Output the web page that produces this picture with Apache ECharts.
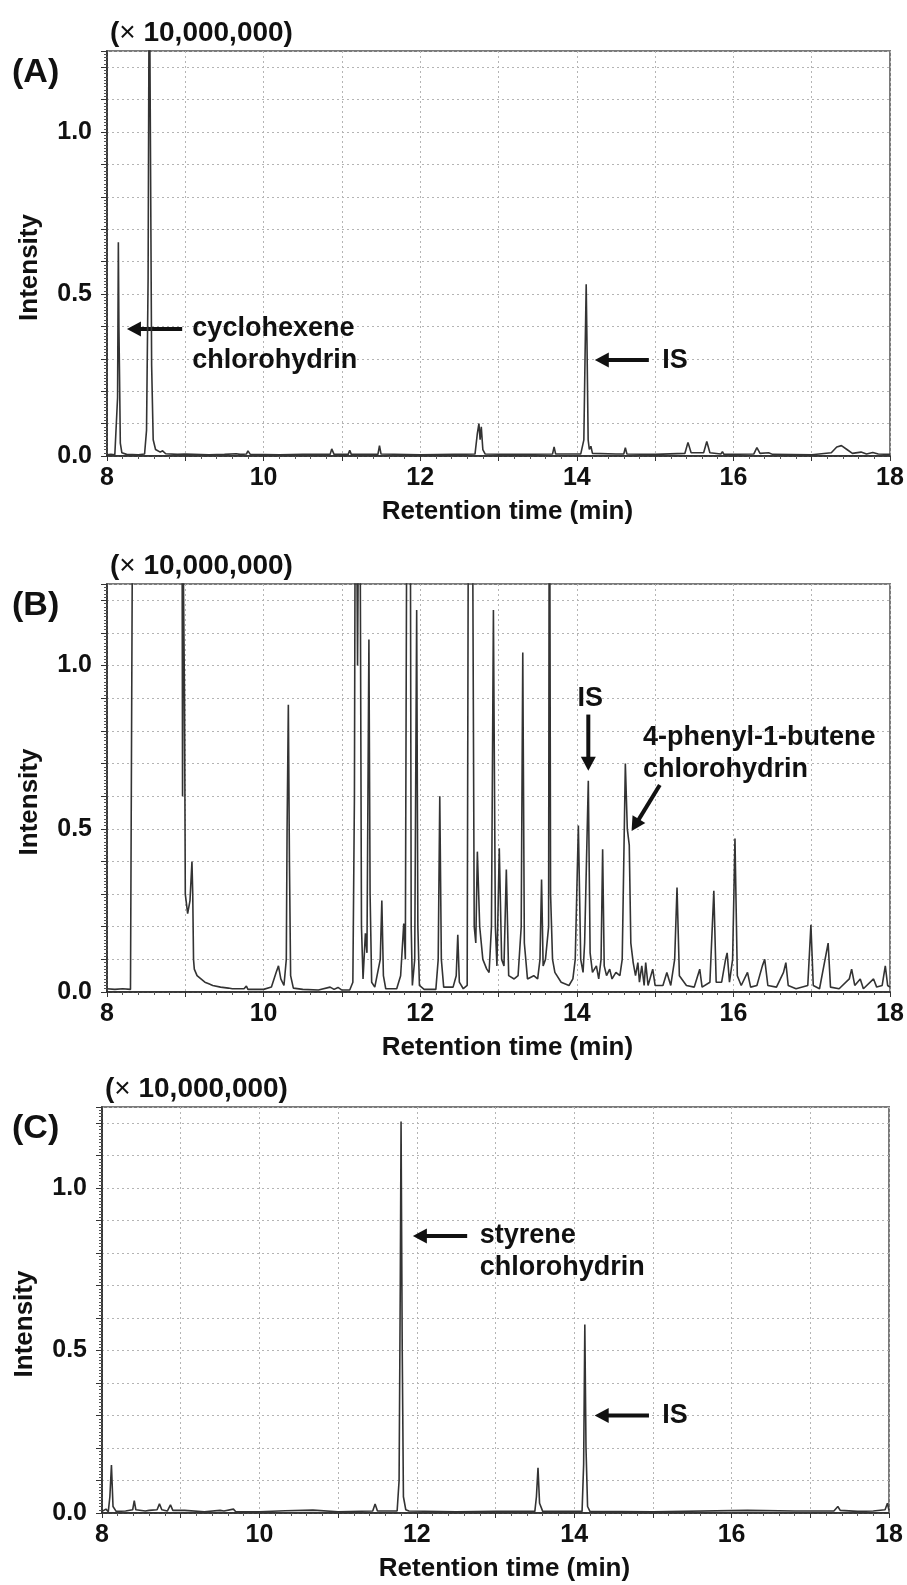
<!DOCTYPE html>
<html><head><meta charset="utf-8">
<script src="https://cdn.jsdelivr.net/npm/echarts@6/dist/echarts.min.js"></script>
<style>html,body{margin:0;padding:0;background:#fff}#c{width:907px;height:1585px}</style>
</head><body><div id="c"></div>
<script>
// ---- data: [retention time (min), intensity (x 10,000,000)] ----
const traceA = [[8.00,0.004],[8.05,0.005],[8.10,0.004],[8.125,0.006],[8.135,0.18],[8.145,0.66],[8.152,0.4],[8.16,0.25],[8.17,0.04],[8.19,0.01],[8.25,0.005],[8.40,0.004],[8.48,0.006],[8.505,0.08],[8.525,0.55],[8.54,1.6],[8.555,0.95],[8.57,0.28],[8.59,0.05],[8.62,0.02],[8.68,0.012],[8.71,0.016],[8.75,0.007],[8.9,0.005],[9.0,0.006],[9.3,0.004],[9.5,0.005],[9.65,0.007],[9.67,0.012],[9.70,0.005],[9.78,0.006],[9.80,0.016],[9.83,0.005],[10.2,0.004],[10.5,0.005],[10.85,0.005],[10.87,0.022],[10.9,0.005],[11.08,0.005],[11.1,0.018],[11.12,0.005],[11.46,0.005],[11.48,0.032],[11.5,0.006],[12.0,0.004],[12.43,0.005],[12.45,0.01],[12.47,0.005],[12.7,0.006],[12.73,0.07],[12.75,0.10],[12.765,0.05],[12.78,0.09],[12.8,0.02],[12.83,0.006],[13.2,0.005],[13.69,0.006],[13.71,0.028],[13.73,0.006],[14.05,0.006],[14.09,0.05],[14.105,0.3],[14.12,0.53],[14.13,0.35],[14.145,0.05],[14.16,0.02],[14.18,0.03],[14.2,0.008],[14.5,0.006],[14.6,0.006],[14.62,0.026],[14.64,0.006],[15.0,0.005],[15.38,0.008],[15.42,0.042],[15.46,0.01],[15.62,0.01],[15.66,0.045],[15.7,0.01],[15.84,0.006],[15.86,0.013],[15.88,0.005],[16.26,0.006],[16.3,0.026],[16.34,0.008],[16.45,0.01],[16.5,0.005],[17.0,0.004],[17.25,0.01],[17.32,0.028],[17.38,0.032],[17.45,0.02],[17.52,0.008],[17.63,0.012],[17.7,0.006],[17.78,0.011],[17.85,0.006],[18.0,0.005]];

const traceB = [[8.0,0.01],[8.1,0.008],[8.2,0.01],[8.3,0.008],[8.325,0.01],[8.335,2.0],[8.955,2.0],[8.965,0.6],[8.975,1.3],[8.99,0.9],[9.0,0.3],[9.03,0.24],[9.06,0.28],[9.085,0.40],[9.095,0.3],[9.105,0.1],[9.115,0.07],[9.15,0.05],[9.2,0.04],[9.25,0.03],[9.3,0.025],[9.32,0.028],[9.35,0.02],[9.45,0.015],[9.55,0.012],[9.57,0.016],[9.6,0.01],[9.75,0.01],[9.78,0.018],[9.8,0.008],[10.0,0.008],[10.1,0.015],[10.16,0.06],[10.19,0.08],[10.22,0.04],[10.26,0.02],[10.29,0.1],[10.3,0.5],[10.316,0.88],[10.33,0.4],[10.345,0.05],[10.38,0.012],[10.5,0.008],[10.7,0.006],[10.85,0.015],[10.9,0.008],[10.95,0.014],[11.0,0.006],[11.1,0.006],[11.14,0.03],[11.16,0.6],[11.175,2.0],[11.2,1.0],[11.225,2.0],[11.25,0.2],[11.27,0.04],[11.3,0.18],[11.32,0.12],[11.345,1.08],[11.36,0.3],[11.38,0.03],[11.42,0.015],[11.49,0.1],[11.51,0.28],[11.53,0.05],[11.56,0.01],[11.7,0.01],[11.75,0.05],[11.79,0.21],[11.81,0.1],[11.835,2.0],[11.87,2.0],[11.885,0.2],[11.9,0.02],[11.93,0.1],[11.955,1.17],[11.97,0.2],[11.99,0.02],[12.05,0.008],[12.2,0.008],[12.23,0.1],[12.25,0.6],[12.27,0.1],[12.3,0.015],[12.42,0.015],[12.46,0.05],[12.48,0.175],[12.5,0.03],[12.55,0.01],[12.6,0.02],[12.62,2.0],[12.66,2.0],[12.69,0.2],[12.71,0.15],[12.73,0.43],[12.76,0.2],[12.8,0.1],[12.85,0.07],[12.88,0.06],[12.91,0.2],[12.935,1.17],[12.96,0.2],[12.98,0.08],[13.01,0.44],[13.04,0.1],[13.07,0.08],[13.1,0.375],[13.13,0.05],[13.2,0.04],[13.25,0.05],[13.29,0.2],[13.31,1.04],[13.33,0.15],[13.37,0.04],[13.45,0.05],[13.5,0.04],[13.53,0.1],[13.55,0.345],[13.57,0.08],[13.6,0.1],[13.64,0.2],[13.65,2.0],[13.665,0.3],[13.69,0.1],[13.72,0.06],[13.8,0.03],[13.9,0.02],[13.95,0.04],[13.98,0.1],[14.02,0.51],[14.05,0.1],[14.08,0.06],[14.1,0.15],[14.147,0.647],[14.17,0.12],[14.2,0.06],[14.25,0.08],[14.28,0.04],[14.31,0.1],[14.33,0.437],[14.35,0.08],[14.38,0.05],[14.42,0.07],[14.45,0.04],[14.5,0.06],[14.55,0.05],[14.58,0.1],[14.62,0.70],[14.645,0.5],[14.67,0.45],[14.69,0.15],[14.72,0.09],[14.75,0.05],[14.78,0.09],[14.8,0.03],[14.83,0.08],[14.86,0.02],[14.88,0.09],[14.91,0.02],[14.97,0.07],[15.0,0.02],[15.1,0.02],[15.15,0.06],[15.2,0.02],[15.25,0.1],[15.28,0.32],[15.31,0.05],[15.4,0.02],[15.5,0.015],[15.57,0.07],[15.6,0.015],[15.7,0.03],[15.75,0.31],[15.78,0.03],[15.85,0.03],[15.9,0.1],[15.92,0.12],[15.95,0.03],[15.99,0.1],[16.02,0.47],[16.05,0.05],[16.1,0.02],[16.18,0.06],[16.22,0.015],[16.3,0.02],[16.37,0.08],[16.4,0.1],[16.44,0.02],[16.55,0.015],[16.64,0.06],[16.67,0.09],[16.7,0.02],[16.8,0.01],[16.95,0.02],[16.99,0.206],[17.02,0.02],[17.1,0.01],[17.21,0.15],[17.24,0.015],[17.35,0.01],[17.48,0.04],[17.51,0.07],[17.55,0.02],[17.62,0.04],[17.66,0.01],[17.79,0.04],[17.83,0.015],[17.9,0.02],[17.94,0.08],[17.97,0.02],[18.0,0.015]];

const traceC = [[8.0,0.005],[8.05,0.012],[8.08,0.004],[8.1,0.05],[8.12,0.148],[8.14,0.02],[8.18,0.005],[8.3,0.006],[8.39,0.01],[8.41,0.038],[8.43,0.01],[8.55,0.006],[8.6,0.008],[8.7,0.01],[8.73,0.028],[8.76,0.01],[8.83,0.006],[8.87,0.025],[8.9,0.008],[9.05,0.008],[9.3,0.004],[9.5,0.008],[9.55,0.006],[9.67,0.012],[9.7,0.004],[10.0,0.004],[10.33,0.007],[10.68,0.009],[11.0,0.004],[11.44,0.006],[11.47,0.028],[11.5,0.006],[11.75,0.006],[11.775,0.1],[11.79,0.7],[11.8,1.205],[11.815,0.5],[11.83,0.05],[11.86,0.01],[11.9,0.006],[12.5,0.004],[13.0,0.005],[13.5,0.005],[13.52,0.05],[13.54,0.139],[13.56,0.03],[13.6,0.005],[14.1,0.005],[14.12,0.15],[14.135,0.58],[14.15,0.2],[14.17,0.02],[14.2,0.005],[15.0,0.004],[16.2,0.008],[16.8,0.006],[17.3,0.006],[17.35,0.02],[17.38,0.008],[17.6,0.005],[17.8,0.006],[17.95,0.01],[17.98,0.03],[18.0,0.008]];

const panelLetters = ['(A)', '(B)', '(C)'];
const xAxisTitle = 'Retention time (min)';
const yAxisTitle = 'Intensity';
const xRange = [8, 18];
const yRange = [0, 1.25];

// annotations in data coordinates
const annotations = [
  {grid:0, text:'cyclohexene\nchlorohydrin', at:[9.09,0.392], from:[8.96,0.392], to:[8.255,0.392]},
  {grid:0, text:'IS', at:[15.09,0.296], from:[14.92,0.296], to:[14.23,0.296]},
  {grid:1, text:'IS', at:[14.01,0.90], from:[14.147,0.85], to:[14.147,0.678]},
  {grid:1, text:'4-phenyl-1-butene\nchlorohydrin', at:[14.845,0.78], from:[15.06,0.634], to:[14.70,0.493]},
  {grid:2, text:'styrene\nchlorohydrin', at:[12.80,0.853], from:[12.64,0.853], to:[11.95,0.853]},
  {grid:2, text:'IS', at:[15.12,0.30], from:[14.95,0.30], to:[14.26,0.30]}
];

const traces = [traceA, traceB, traceC];
const grids = [
  {left:107, top:51, width:783, height:405},
  {left:107, top:584, width:783, height:408},
  {left:102, top:1107, width:787, height:406}
];
const FONT = "'Liberation Sans', Arial, sans-serif";
const chart = echarts.init(document.getElementById('c'), null, {renderer:'canvas'});

const option = {
  animation:false,
  backgroundColor:'#fff',
  grid: grids.map(g => Object.assign({show:true, borderColor:'#7a7a7a', borderWidth:2, backgroundColor:'#fff', outerBoundsMode:'none', containLabel:false}, g)),
  xAxis: grids.map((g,i) => ({
    type:'value', gridIndex:i, min:xRange[0], max:xRange[1], interval:1,
    name:xAxisTitle, nameLocation:'middle', nameGap:43,
    nameTextStyle:{fontFamily:FONT, fontWeight:'bold', fontSize:26, color:'#111', padding:[0,0,0,18]},
    axisLine:{show:true, onZero:false, lineStyle:{color:'#222', width:1.5}},
    axisTick:{show:true, length:5, lineStyle:{color:'#333'}},
    minorTick:{show:true, splitNumber:5, length:3, lineStyle:{color:'#555'}},
    axisLabel:{margin:10, fontFamily:FONT, fontWeight:'bold', fontSize:25, color:'#111',
      formatter:v => (Math.round(v) % 2 === 0 ? String(Math.round(v)) : '')},
    splitLine:{show:true, lineStyle:{type:[2,3], color:'#b4b4b4', width:1}}
  })),
  yAxis: grids.map((g,i) => ({
    type:'value', gridIndex:i, min:yRange[0], max:yRange[1], interval:0.1,
    name:yAxisTitle, nameLocation:'middle', nameGap:64, nameRotate:90,
    nameTextStyle:{fontFamily:FONT, fontWeight:'bold', fontSize:26, color:'#111', padding:[0,28,0,0]},
    axisLine:{show:true, onZero:false, lineStyle:{color:'#222', width:1.5}},
    axisTick:{show:true, length:6, lineStyle:{color:'#333'}},
    minorTick:{show:true, splitNumber:10, length:3, lineStyle:{color:'#555'}},
    axisLabel:{margin:15, fontFamily:FONT, fontWeight:'bold', fontSize:25, color:'#111',
      formatter:v => (Math.abs(v*2 - Math.round(v*2)) < 1e-6 ? v.toFixed(1) : '')},
    splitLine:{show:true, lineStyle:{type:[2,3], color:'#b4b4b4', width:1}}
  })),
  series: traces.map((t,i) => ({
    type:'line', xAxisIndex:i, yAxisIndex:i, data:t, showSymbol:false, symbol:'none',
    clip:true, silent:true, lineStyle:{color:'#333', width:1.6}
  }))
};
chart.setOption(option);

// free texts and arrows, positioned from the grid layout / data coordinates
const gfx = [];
grids.forEach((g,i) => {
  gfx.push({type:'text', x:12, y:g.top+22, style:{text:panelLetters[i], font:"bold 34px "+FONT, fill:'#111', textVerticalAlign:'middle'}});
  gfx.push({type:'text', x:g.left+3, y:g.top-18, style:{
    text:'{p|(}{x|×}{p| 10,000,000)}', textVerticalAlign:'middle',
    rich:{p:{font:"bold 28px "+FONT, fill:'#111'}, x:{font:"28px "+FONT, fill:'#111'}}}});
});
annotations.forEach(a => {
  const pt = chart.convertToPixel({gridIndex:a.grid}, a.at);
  gfx.push({type:'text', x:pt[0], y:pt[1]-16, style:{text:a.text, font:"bold 27px "+FONT, fill:'#111', lineHeight:32, textVerticalAlign:'top', textAlign:'left'}});
  const p0 = chart.convertToPixel({gridIndex:a.grid}, a.from);
  const p1 = chart.convertToPixel({gridIndex:a.grid}, a.to);
  const dx = p1[0]-p0[0], dy = p1[1]-p0[1], L = Math.hypot(dx,dy), ux = dx/L, uy = dy/L;
  const hl = 14, hw = 7.5, bx = p1[0]-ux*hl, by = p1[1]-uy*hl;
  gfx.push({type:'line', shape:{x1:p0[0], y1:p0[1], x2:bx+ux*2, y2:by+uy*2}, style:{stroke:'#111', lineWidth:4}});
  gfx.push({type:'polygon', shape:{points:[[p1[0],p1[1]],[bx-uy*hw, by+ux*hw],[bx+uy*hw, by-ux*hw]]}, style:{fill:'#111'}});
});
chart.setOption({graphic:gfx});
</script>
</body></html>
